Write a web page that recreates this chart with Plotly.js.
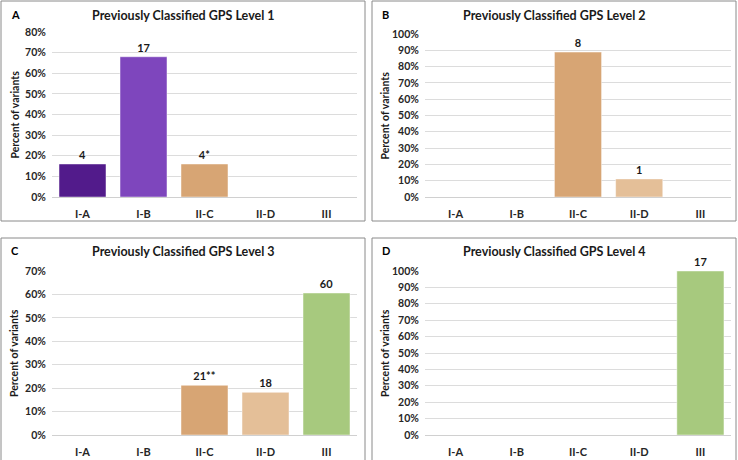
<!DOCTYPE html>
<html>
<head>
<meta charset="utf-8">
<script src="https://cdn.plot.ly/plotly-3.0.1.min.js"></script>
<style>html,body{margin:0;padding:0;background:#fff;}#chart{width:738px;height:460px;}</style>
</head>
<body>
<div id="chart"></div>
<script>
// ---- data ----
var categories = ["I-A", "I-B", "II-C", "II-D", "III"];
var catColors = ["#521b8b", "#7e46bd", "#d7a574", "#e4bf98", "#a7c97e"];

var level1Pct = [0.16, 0.68, 0.16, null, null];
var level1Labels = ["4", "17", "4*", "", ""];

var level2Pct = [null, null, 0.889, 0.111, null];
var level2Labels = ["", "", "8", "1", ""];

var level3Pct = [null, null, 0.212, 0.182, 0.606];
var level3Labels = ["", "", "21**", "18", "60"];

var level4Pct = [null, null, null, null, 1.0];
var level4Labels = ["", "", "", "", "17"];

var panelTitles = ["Previously Classified GPS Level 1", "Previously Classified GPS Level 2",
                   "Previously Classified GPS Level 3", "Previously Classified GPS Level 4"];
var panelLetters = ["A", "B", "C", "D"];
var yMax = [0.8, 1.0, 0.7, 1.0];
var yAxisTitle = "Percent of variants";

// ---- layout helpers ----
var W = 738, H = 460;
var FONT = "Lato, 'Open Sans', sans-serif";
function px(x){ return x / W; }
function py(y){ return 1 - y / H; }

var panels = [
  {vals: level1Pct, labels: level1Labels, x0: 52, x1: 357, yt: 32, yb: 197, box: [1, 1, 365, 221]},
  {vals: level2Pct, labels: level2Labels, x0: 425, x1: 731, yt: 34, yb: 197, box: [372, 1, 736, 221]},
  {vals: level3Pct, labels: level3Labels, x0: 52, x1: 357, yt: 271, yb: 435, box: [1, 238, 365, 462]},
  {vals: level4Pct, labels: level4Labels, x0: 425, x1: 731, yt: 271, yb: 435, box: [372, 238, 736, 462]}
];

var traces = [];
var layout = {
  width: W, height: H,
  margin: {l: 0, r: 0, t: 0, b: 0},
  paper_bgcolor: "#ffffff",
  plot_bgcolor: "#ffffff",
  showlegend: false,
  bargap: 0.23,
  font: {family: FONT, color: "#1a1a1a", size: 11, weight: 700},
  annotations: [],
  shapes: []
};

panels.forEach(function(p, i){
  var n = i + 1;
  var xa = "x" + (n === 1 ? "" : n), ya = "y" + (n === 1 ? "" : n);
  traces.push({
    type: "bar",
    x: categories,
    y: p.vals,
    text: p.labels,
    texttemplate: "%{text}",
    textposition: "outside",
    cliponaxis: false,
    textfont: {family: FONT, size: 11, color: "#1a1a1a", weight: 700},
    marker: {color: catColors, line: {color: "rgba(255,255,255,0.45)", width: 1}},
    xaxis: xa, yaxis: ya,
    hoverinfo: "skip"
  });
  layout["xaxis" + (n === 1 ? "" : n)] = {
    domain: [px(p.x0), px(p.x1)],
    anchor: ya,
    type: "category",
    categoryorder: "array",
    categoryarray: categories,
    showgrid: false,
    showline: false,
    ticks: "outside",
    ticklen: 7,
    tickcolor: "rgba(0,0,0,0)",
    tickfont: {family: FONT, size: 11, color: "#262626", weight: 700},
    fixedrange: true
  };
  layout["yaxis" + (n === 1 ? "" : n)] = {
    domain: [py(p.yb), py(p.yt)],
    anchor: xa,
    range: [0, yMax[i]],
    dtick: 0.1,
    tickformat: ".0%",
    showgrid: true,
    gridcolor: "#dcdcdc",
    gridwidth: 1,
    zeroline: true,
    zerolinecolor: "#d0d0d0",
    zerolinewidth: 1,
    showline: false,
    ticks: "outside",
    ticklen: 3,
    tickcolor: "rgba(0,0,0,0)",
    tickfont: {family: FONT, size: 10.5, color: "#262626", weight: 700},
    fixedrange: true
  };
  // panel border
  layout.shapes.push({
    type: "rect", xref: "paper", yref: "paper",
    x0: px(p.box[0]), x1: px(p.box[2]), y0: py(p.box[3]), y1: py(p.box[1]),
    line: {color: "#8a8a8a", width: 1}, fillcolor: "rgba(0,0,0,0)", layer: "below"
  });
  // title
  layout.annotations.push({
    xref: "paper", yref: "paper",
    x: px((p.box[0] + p.box[2]) / 2), y: py(p.box[1] + 14),
    text: panelTitles[i], showarrow: false,
    xanchor: "center", yanchor: "middle",
    font: {family: FONT, size: 12.5, color: "#1a1a1a", weight: 700}
  });
  // panel letter
  layout.annotations.push({
    xref: "paper", yref: "paper",
    x: px(p.box[0] + 8), y: py(p.box[1] + 13),
    text: panelLetters[i], showarrow: false,
    xanchor: "left", yanchor: "middle",
    font: {family: FONT, size: 11, color: "#000", weight: 700}
  });
  // y axis title
  layout.annotations.push({
    xref: "paper", yref: "paper",
    x: px(p.box[0] + 13), y: py((p.yt + p.yb) / 2),
    text: yAxisTitle, showarrow: false, textangle: -90,
    xanchor: "center", yanchor: "middle",
    font: {family: FONT, size: 10.5, color: "#1a1a1a", weight: 700}
  });
});

Plotly.newPlot("chart", traces, layout, {staticPlot: true, displayModeBar: false});
</script>
</body>
</html>
